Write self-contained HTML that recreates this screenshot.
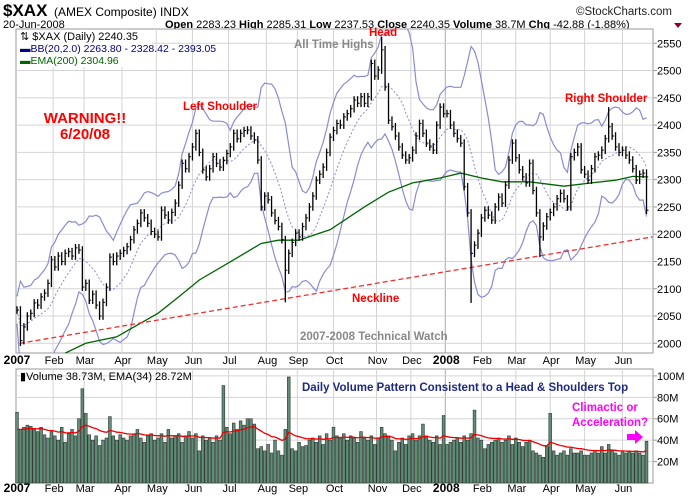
<!DOCTYPE html>
<html><head><meta charset="utf-8"><style>
html,body{margin:0;padding:0;background:#fff;}
svg{display:block;font-family:"Liberation Sans",Arial,sans-serif;}
</style></head><body>
<svg id="c" width="700" height="500" viewBox="0 0 700 500">
<rect x="0" y="0" width="700" height="500" fill="#fff"/>
<text x="3" y="16" font-size="17" font-weight="bold">$XAX</text>
<text x="54" y="16" font-size="12">(AMEX Composite) INDX</text>
<text x="672" y="15" font-size="11.5" text-anchor="end" fill="#222">©StockCharts.com</text>
<text x="3" y="28" font-size="11">20-Jun-2008</text>
<text x="165" y="28" font-size="11"><tspan font-weight="bold">Open</tspan> 2283.23 <tspan font-weight="bold">High</tspan> 2285.31 <tspan font-weight="bold">Low</tspan> 2237.53 <tspan font-weight="bold">Close</tspan> 2240.35 <tspan font-weight="bold">Volume</tspan> 38.7M <tspan font-weight="bold">Chg</tspan> -42.88 (-1.88%)</text>
<polygon points="674,23 682,23 678,28" fill="#8b0030"/>
<g id="price"></g>
<g id="vol"></g>
</svg>
<script>
const closes=[2061,2005,2030,2050,2055,2074,2070,2085,2092,2110,
2153,2140,2160,2150,2165,2168,2160,2175,2171,2103,
2110,2079,2090,2070,2050,2075,2103,2158,2150,2160,
2165,2170,2177,2190,2208,2220,2239,2230,2220,2205,
2200,2195,2244,2235,2226,2240,2257,2290,2330,2320,
2342,2360,2385,2350,2318,2305,2320,2342,2330,2323,
2335,2348,2360,2385,2375,2385,2390,2391,2380,2373,
2336,2250,2270,2263,2239,2225,2214,2190,2134,2165,
2185,2202,2195,2214,2230,2250,2270,2299,2310,2323,
2350,2378,2390,2403,2400,2415,2421,2430,2446,2440,
2452,2440,2452,2513,2490,2501,2538,2470,2409,2397,
2380,2360,2345,2336,2340,2354,2380,2403,2385,2367,
2360,2354,2400,2433,2421,2421,2400,2385,2375,2367,
2287,2239,2165,2180,2202,2230,2244,2235,2226,2250,
2268,2257,2290,2336,2367,2340,2318,2305,2294,2330,
2280,2239,2195,2215,2232,2240,2250,2265,2275,2265,
2250,2342,2350,2360,2318,2310,2299,2320,2342,2345,
2354,2375,2397,2380,2360,2350,2354,2345,2336,2320,
2299,2310,2312,2244];
const wickIdx=[1,24,78,106,132,152,172];
const wickVal=[1995,2043,2075,2562,2074,2158,2433];
const volumes=[66,50,52,54,53,50,48,52,45,42,
48,44,40,52,38,46,50,44,60,88,
65,45,40,44,35,40,42,62,44,40,
45,42,40,44,46,50,42,38,44,46,
40,42,46,38,50,42,44,46,38,44,
48,42,46,30,44,40,42,38,44,40,
91,52,46,56,50,58,54,60,60,55,
32,34,30,36,28,40,30,26,50,99,
32,30,38,34,35,40,42,38,44,36,
46,40,52,44,42,46,40,44,42,38,
48,42,40,44,36,42,52,46,44,40,
30,38,42,36,44,46,40,44,55,44,
40,38,44,36,63,36,38,40,42,38,
44,40,46,68,42,40,32,36,38,40,
42,38,40,44,36,42,38,34,38,40,
30,28,26,24,34,65,30,26,28,30,
26,32,28,28,30,26,26,28,30,28,
34,28,36,30,28,26,30,28,29,28,
30,28,26,39];
const priceTicks=[2000,2050,2100,2150,2200,2250,2300,2350,2400,2450,2500,2550];
const volTicks=[20,40,60,80,100];
const volTickLabels=["20M","40M","60M","80M","100M"];
const monthLabels=["2007","Feb","Mar","Apr","May","Jun","Jul","Aug","Sep","Oct","Nov","Dec","2008","Feb","Mar","Apr","May","Jun"];
const monthBarIdx=[0,10.5,19.5,30.5,40.5,51,61.5,72.5,81.5,92,104.5,114.5,124.5,135,145,155,165,176];
const emaIdx=[14,20,29,34,41,47,53,63,71,76,82,88,91,101,108,115,123,129,135,141,149,159,167,174,179,183.5];
const emaVals=[1982,2000,2012,2030,2055,2085,2116,2153,2183,2189,2189,2202,2208,2250,2277,2294,2303,2312,2303,2296,2296,2288,2294,2299,2306,2305];
const neckStart=[0.8,2000], neckEnd=[184.7,2195];

const NS="http://www.w3.org/2000/svg";
const L=16,R=653,PT=29,PB=353,VT=369,VB=483;
const xS=i=>17+i*3.44;
const yP=p=>343.3-(p-2000)*0.5455;
const yV=v=>VB-v*1.071;
function mk(tag,attrs,parent){const e=document.createElementNS(NS,tag);for(const k in attrs)e.setAttribute(k,attrs[k]);parent.appendChild(e);return e;}
const P=document.getElementById('price'),V=document.getElementById('vol');

for(const [g,t,b,nm] of [[P,PT,PB,'price-panel'],[V,VT,VB,'volume-panel']]){
  const r=mk('rect',{x:L,y:t,width:R-L,height:b-t,fill:'#fff',stroke:'#999','stroke-width':1},g);
  
  
}
monthBarIdx.forEach((m,k)=>{
  const x=xS(m);
  if(k>0){mk('line',{x1:x,x2:x,y1:PT,y2:PB,stroke:k==12?'#aaa':'#d4d4d4'},P);mk('line',{x1:x,x2:x,y1:VT,y2:VB,stroke:k==12?'#aaa':'#d4d4d4'},V);}
  for(const yy of [364,492]){
    const t=mk('text',{x:x+(k==0?0:1),y:yy,'font-size':(k==0||k==12)?12:11,'font-weight':(k==0||k==12)?'bold':'normal','text-anchor':'middle'},P);
    t.textContent=monthLabels[k];
    
    
  }
});
priceTicks.forEach(p=>{
  const y=yP(p);
  mk('line',{x1:L,x2:R,y1:y,y2:y,stroke:'#d4d4d4'},P);
  mk('line',{x1:R,x2:R+4,y1:y,y2:y,stroke:'#999'},P);
  const t=mk('text',{x:657,y:y+4,'font-size':11},P);
  t.textContent=p;
  
  
});
volTicks.forEach((v,k)=>{
  const y=yV(v);
  mk('line',{x1:L,x2:R,y1:y,y2:y,stroke:'#d4d4d4'},V);
  mk('line',{x1:R,x2:R+4,y1:y,y2:y,stroke:'#999'},V);
  const t=mk('text',{x:657,y:y+4,'font-size':11},V);
  t.textContent=volTickLabels[k];
  
  
});
const N=10,up=[],mid=[],lo=[];
closes.forEach((c,i)=>{const s=closes.slice(Math.max(0,i-N+1),i+1);const m=s.reduce((a,b)=>a+b,0)/s.length;const sd=Math.sqrt(s.reduce((a,b)=>a+(b-m)*(b-m),0)/s.length);mid.push(m);up.push(m+2*sd+25);lo.push(m-2*sd-25);});
const path=arr=>arr.map((v,i)=>(i?'L':'M')+xS(i).toFixed(1)+','+yP(v).toFixed(1)).join('');
const clip=mk('clipPath',{id:'pc'},P);mk('rect',{x:L,y:PT,width:R-L,height:PB-PT},clip);
const gc=mk('g',{'clip-path':'url(#pc)'},P);
let e=mk('path',{d:path(up),fill:'none',stroke:'#8a8cd0','stroke-width':1.2},gc);


e=mk('path',{d:path(lo),fill:'none',stroke:'#8a8cd0','stroke-width':1.2},gc);


e=mk('path',{d:path(mid),fill:'none',stroke:'#8a8cd0','stroke-width':1,'stroke-dasharray':'2,2'},gc);


e=mk('path',{d:emaIdx.map((d,k)=>(k?'L':'M')+xS(d).toFixed(1)+','+yP(emaVals[k]).toFixed(1)).join(''),fill:'none',stroke:'#006400','stroke-width':1.3},gc);


e=mk('line',{x1:xS(neckStart[0]),y1:yP(neckStart[1]),x2:xS(neckEnd[0]),y2:yP(neckEnd[1]),stroke:'#f03030','stroke-width':1.3,'stroke-dasharray':'5,3'},gc);


closes.forEach((c,i)=>{
  const prev=i?closes[i-1]:c;
  let hi=Math.max(prev,c)+7,lw=Math.min(prev,c)-7;
  const w=wickIdx.indexOf(i);
  if(w>=0){if(wickVal[w]>c)hi=wickVal[w];else lw=wickVal[w];}
  const x=xS(i);
  const b=mk('line',{x1:x,x2:x,y1:yP(hi),y2:yP(lw),stroke:'#000','stroke-width':1.3},gc);
  
  
  mk('line',{x1:x,x2:x+2,y1:yP(c),y2:yP(c),stroke:'#000','stroke-width':1},gc);
});
volumes.forEach((v,i)=>{
  const x=xS(i);
  const b=mk('rect',{x:x-1.4,y:yV(v),width:2.8,height:VB-yV(v),fill:'#5e8f76',stroke:'#333','stroke-width':0.6},V);
  
  
});
let ev=48;const vE=volumes.map(v=>{ev=ev+(v-ev)*2/18;return ev;});
e=mk('path',{d:vE.map((v,i)=>(i?'L':'M')+xS(i).toFixed(1)+','+yV(v).toFixed(1)).join(''),fill:'none',stroke:'#e00','stroke-width':1.3},V);


function txt(parent,x,y,s,attrs,name){const t=mk('text',Object.assign({x:x,y:y},attrs),parent);t.textContent=s;return t;}
mk('rect',{x:17,y:30,width:135,height:37,fill:'#fff'},P);
txt(P,20,40,'⇅ $XAX (Daily) 2240.35',{'font-size':11},'legend-price');
txt(P,20,52,'▬BB(20,2.0) 2263.80 - 2328.42 - 2393.05',{'font-size':10.5,fill:'#000080'},'legend-bb');
txt(P,20,64,'▬EMA(200) 2304.96',{'font-size':10.5,fill:'#006400'},'legend-ema');
const red={'font-size':11.5,'font-weight':'bold',fill:'#f00'};
txt(P,294,48,'All Time Highs',{'font-size':11.5,'font-weight':'bold',fill:'#888'},'all-time-highs-annotation');
txt(P,369,36,'Head',red,'head-annotation');
txt(P,183,110,'Left Shoulder',red,'left-shoulder-annotation');
txt(P,565,102,'Right Shoulder',red,'right-shoulder-annotation');
txt(P,352,302,'Neckline',red,'neckline-annotation');
txt(P,85,123,'WARNING!!',{'font-size':15,'font-weight':'bold',fill:'#f00','text-anchor':'middle'},'warning-annotation');
txt(P,85,139,'6/20/08',{'font-size':15,'font-weight':'bold',fill:'#f00','text-anchor':'middle'},'warning-date');
txt(P,300,340,'2007-2008 Technical Watch',{'font-size':11.5,'font-weight':'bold',fill:'#888'},'watermark');
txt(V,20,380,'▮Volume 38.73M, EMA(34) 28.72M',{'font-size':11},'volume-legend');
txt(V,302,391,'Daily Volume Pattern Consistent to a Head & Shoulders Top',{'font-size':11.5,'font-weight':'bold',fill:'#1c2a80'},'volume-annotation');
txt(V,572,411,'Climactic or',{'font-size':11.5,'font-weight':'bold',fill:'#f0f'},'climactic-annotation');
txt(V,572,426,'Acceleration?',{'font-size':11.5,'font-weight':'bold',fill:'#f0f'},'acceleration-annotation');
e=mk('polygon',{points:'627,434 635,434 635,430 643,437 635,444 635,440 627,440',fill:'#f0f'},V);


</script>
</body></html>
